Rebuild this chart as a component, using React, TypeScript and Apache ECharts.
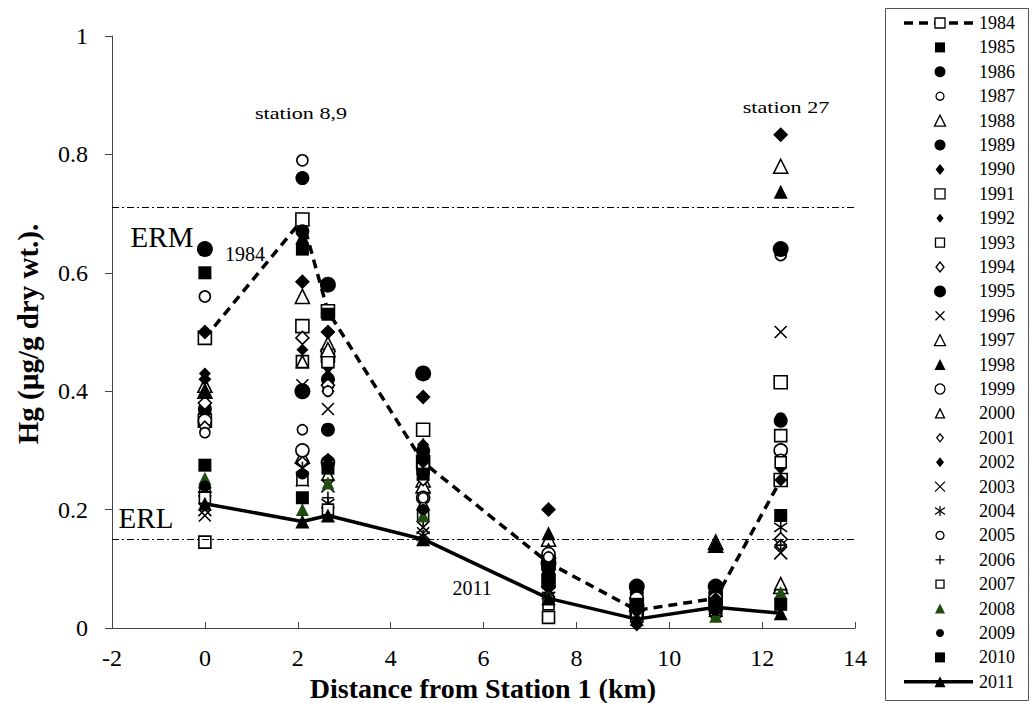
import React, { useEffect, useRef } from "react";
import * as echarts from "echarts";

const stations = [0, 2.1, 2.65, 4.7, 7.4, 9.3, 11.0, 12.4];
const years = ["1984","1985","1986","1987","1988","1989","1990","1991","1992","1993","1994","1995","1996","1997","1998","1999","2000","2001","2002","2003","2004","2005","2006","2007","2008","2009","2010","2011"];

const hg1984 = [0.49, 0.69, 0.535, 0.28, 0.11, 0.03, 0.05, 0.25];
const hg1985 = [0.60, 0.64, 0.53, 0.29, 0.09, 0.05, 0.06, 0.19];
const hg1986 = [0.37, 0.67, 0.42, 0.27, 0.10, 0.04, 0.05, 0.64];
const hg1987 = [0.56, 0.79, 0.41, 0.26, 0.12, 0.05, 0.05, 0.63];
const hg1988 = [0.41, 0.56, 0.48, 0.25, 0.15, 0.05, 0.145, 0.78];
const hg1989 = [0.36, 0.76, 0.335, 0.30, 0.10, 0.06, 0.06, 0.35];
const hg1990 = [0.50, 0.585, 0.50, 0.39, 0.20, 0.05, 0.07, 0.833];
const hg1991 = [0.35, 0.51, 0.46, 0.335, 0.08, 0.04, 0.04, 0.415];
const hg1992 = [0.43, 0.47, 0.44, 0.31, 0.09, 0.03, 0.06, 0.27];
const hg1993 = [0.145, 0.45, 0.45, 0.27, 0.018, 0.02, 0.03, 0.325];
const hg1994 = [0.38, 0.49, 0.41, 0.23, 0.07, 0.02, 0.03, 0.15];
const hg1995 = [0.64, 0.40, 0.58, 0.43, 0.11, 0.07, 0.07, 0.64];
const hg1996 = [0.19, 0.41, 0.37, 0.16, 0.06, 0.03, 0.04, 0.50];
const hg1997 = [0.40, 0.29, 0.47, 0.24, 0.13, 0.04, 0.14, 0.07];
const hg1998 = [0.40, 0.66, 0.43, 0.31, 0.16, 0.04, 0.14, 0.737];
const hg1999 = [0.35, 0.30, 0.28, 0.22, 0.125, 0.05, 0.05, 0.30];
const hg2000 = [0.24, 0.45, 0.26, 0.21, 0.06, 0.03, 0.03, 0.075];
const hg2001 = [0.34, 0.28, 0.40, 0.25, 0.08, 0.02, 0.02, 0.14];
const hg2002 = [0.42, 0.26, 0.285, 0.28, 0.07, 0.005, 0.05, 0.25];
const hg2003 = [0.20, 0.25, 0.24, 0.17, 0.05, 0.02, 0.03, 0.127];
const hg2004 = [0.23, 0.27, 0.21, 0.155, 0.06, 0.03, 0.04, 0.17];
const hg2005 = [0.33, 0.335, 0.40, 0.22, 0.12, 0.04, 0.04, 0.285];
const hg2006 = [0.24, 0.26, 0.22, 0.18, 0.06, 0.02, 0.03, 0.14];
const hg2007 = [0.22, 0.25, 0.20, 0.19, 0.04, 0.02, 0.03, 0.28];
const hg2008 = [0.253, 0.20, 0.245, 0.19, 0.055, 0.02, 0.02, 0.06];
const hg2009 = [0.24, 0.26, 0.275, 0.20, 0.07, 0.03, 0.03, 0.355];
const hg2010 = [0.275, 0.22, 0.27, 0.26, 0.085, 0.04, 0.04, 0.04];
const hg2011 = [0.21, 0.18, 0.19, 0.15, 0.05, 0.015, 0.035, 0.025];

const allValues = [hg1984, hg1985, hg1986, hg1987, hg1988, hg1989, hg1990, hg1991, hg1992, hg1993, hg1994, hg1995, hg1996, hg1997, hg1998, hg1999, hg2000, hg2001, hg2002, hg2003, hg2004, hg2005, hg2006, hg2007, hg2008, hg2009, hg2010, hg2011];

const ERM = 0.71;
const ERL = 0.15;

const X = "path://M0,0L10,10M10,0L0,10";
const PLUS = "path://M5,0L5,10M0,5L10,5";
const AST = "path://M0,1.5L10,8.5M10,1.5L0,8.5M5,0L5,10";

// [symbol, size, kind]  kind: f=filled, o=open, s=stroke, g=green
const styles: [string, number, string][] = [
  ["rect", 13, "o"], // 1984
  ["rect", 13, "f"],
  ["circle", 14, "f"],
  ["circle", 11, "o"],
  ["triangle", 14, "o"],
  ["circle", 14, "f"],
  ["diamond", 15, "f"],
  ["rect", 13, "o"],
  ["diamond", 12, "f"],
  ["rect", 12, "o"],
  ["diamond", 13, "o"],
  ["circle", 16, "f"],
  [X, 12, "s"],
  ["triangle", 14, "o"],
  ["triangle", 14, "f"],
  ["circle", 13, "o"],
  ["triangle", 12, "o"],
  ["diamond", 11, "o"],
  ["diamond", 13, "f"],
  [X, 13, "s"],
  [AST, 13, "s"],
  ["circle", 10, "o"],
  [PLUS, 12, "s"],
  ["rect", 11, "o"],
  ["triangle", 13, "g"],
  ["circle", 11, "f"],
  ["rect", 13, "f"],
  ["triangle", 14, "f"], // 2011
];

const SERIF = "'Liberation Serif', 'DejaVu Serif', serif";
const GREEN = "#1f4d10";

function itemStyleFor(kind: string) {
  if (kind === "f") return { color: "#000", borderColor: "#000", borderWidth: 0, opacity: 1 };
  if (kind === "g") return { color: GREEN, borderColor: GREEN, borderWidth: 0, opacity: 1 };
  if (kind === "o") return { color: "#fff", borderColor: "#000", borderWidth: 1.6, opacity: 1 };
  return { color: "rgba(0,0,0,0)", borderColor: "#000", borderWidth: 1.6, opacity: 1 };
}

function legendMarker(sym: string, size: number, kind: string, cx: number, cy: number): any[] {
  const h = size / 2;
  const fill = kind === "f" ? "#000" : kind === "g" ? GREEN : "#fff";
  const st: any = kind === "o" ? { fill, stroke: "#000", lineWidth: 1.3 } : { fill };
  const ls = { stroke: "#000", lineWidth: 1.3 };
  if (sym === "rect") return [{ type: "rect", shape: { x: cx - h, y: cy - h, width: size, height: size }, style: st }];
  if (sym === "circle") return [{ type: "circle", shape: { cx, cy, r: h }, style: st }];
  if (sym === "triangle") return [{ type: "polygon", shape: { points: [[cx, cy - h], [cx + h, cy + h], [cx - h, cy + h]] }, style: st }];
  if (sym === "diamond") return [{ type: "polygon", shape: { points: [[cx, cy - h], [cx + h * 0.8, cy], [cx, cy + h], [cx - h * 0.8, cy]] }, style: st }];
  if (sym === X) return [
    { type: "line", shape: { x1: cx - h, y1: cy - h, x2: cx + h, y2: cy + h }, style: ls },
    { type: "line", shape: { x1: cx + h, y1: cy - h, x2: cx - h, y2: cy + h }, style: ls },
  ];
  if (sym === PLUS) return [
    { type: "line", shape: { x1: cx, y1: cy - h, x2: cx, y2: cy + h }, style: ls },
    { type: "line", shape: { x1: cx - h, y1: cy, x2: cx + h, y2: cy }, style: ls },
  ];
  return [
    { type: "line", shape: { x1: cx - h, y1: cy - h * 0.7, x2: cx + h, y2: cy + h * 0.7 }, style: ls },
    { type: "line", shape: { x1: cx + h, y1: cy - h * 0.7, x2: cx - h, y2: cy + h * 0.7 }, style: ls },
    { type: "line", shape: { x1: cx, y1: cy - h, x2: cx, y2: cy + h }, style: ls },
  ];
}

export default function App() {
  const ref = useRef<HTMLDivElement>(null);
  useEffect(() => {
    if (!ref.current) return;
    const chart = echarts.init(ref.current, undefined, { renderer: "svg" });
    const series: any[] = years.map((yr, i) => {
      const [sym, size, kind] = styles[i];
      const data = stations.map((x, j) => [x, allValues[i][j]]);
      const base: any = {
        name: yr,
        data,
        symbol: sym,
        symbolSize: size,
        itemStyle: itemStyleFor(kind),
        z: 2,
      };
      if (yr === "1984") {
        return { ...base, type: "line", lineStyle: { color: "#000", width: 3.5, type: [9, 6] }, showSymbol: true };
      }
      if (yr === "2011") {
        return { ...base, type: "line", lineStyle: { color: "#000", width: 3.5, type: "solid" }, z: 3 };
      }
      return { ...base, type: "scatter" };
    });
    series.unshift({
      name: "ref",
      type: "line",
      data: [],
      silent: true,
      markLine: {
        silent: true,
        symbol: "none",
        label: { show: false },
        lineStyle: { color: "#000", width: 1, type: [7, 3, 2, 3] },
        data: [{ yAxis: ERM }, { yAxis: ERL }],
      },
    });

    // manual legend
    const legendEls: any[] = [
      { type: "rect", shape: { x: 885.5, y: 8.5, width: 143, height: 692 }, style: { fill: "#fff", stroke: "#555", lineWidth: 1 } },
    ];
    years.forEach((yr, i) => {
      const cy = 23 + i * 24.4;
      const [sym, size, kind] = styles[i];
      if (yr === "1984") {
        legendEls.push({ type: "line", shape: { x1: 904, y1: cy, x2: 973, y2: cy }, style: { stroke: "#000", lineWidth: 3.5, lineDash: [9, 6] } });
      }
      if (yr === "2011") {
        legendEls.push({ type: "line", shape: { x1: 904, y1: cy, x2: 973, y2: cy }, style: { stroke: "#000", lineWidth: 3.5 } });
      }
      legendMarker(sym, Math.round(size * 0.75), kind, 940, cy).forEach((e) => legendEls.push(e));
      legendEls.push({ type: "text", x: 979, y: cy, style: { text: yr, font: `18px ${SERIF}`, fill: "#000", textAlign: "left", textVerticalAlign: "middle" } });
    });

    chart.setOption({
      animation: false,
      backgroundColor: "#fff",
      grid: { left: 112, top: 36, right: 179, bottom: 75, containLabel: false },
      xAxis: {
        type: "value",
        min: -2,
        max: 14,
        interval: 2,
        axisLine: { lineStyle: { color: "#444", width: 1 } },
        axisTick: { inside: true, length: 6, lineStyle: { color: "#444" } },
        splitLine: { show: false },
        axisLabel: { color: "#000", fontFamily: SERIF, fontSize: 24, margin: 18 },
      },
      yAxis: {
        type: "value",
        min: 0,
        max: 1,
        interval: 0.2,
        axisLine: { show: true, onZero: false, lineStyle: { color: "#444", width: 1 } },
        axisTick: { show: true, inside: false, length: 7, lineStyle: { color: "#444" } },
        splitLine: { show: false },
        axisLabel: { color: "#000", fontFamily: SERIF, fontSize: 24, margin: 24 },
      },
      graphic: [
        { type: "text", x: 301, y: 113, scaleX: 1.3, style: { text: "station 8,9", font: `17px ${SERIF}`, fill: "#000", textAlign: "center", textVerticalAlign: "middle" } },
        { type: "text", x: 786, y: 107, scaleX: 1.3, style: { text: "station 27", font: `17px ${SERIF}`, fill: "#000", textAlign: "center", textVerticalAlign: "middle" } },
        { type: "text", x: 162, y: 237, style: { text: "ERM", font: `29px ${SERIF}`, fill: "#000", textAlign: "center", textVerticalAlign: "middle" } },
        { type: "text", x: 245, y: 254, style: { text: "1984", font: `20px ${SERIF}`, fill: "#000", textAlign: "center", textVerticalAlign: "middle" } },
        { type: "text", x: 146, y: 518, style: { text: "ERL", font: `29px ${SERIF}`, fill: "#000", textAlign: "center", textVerticalAlign: "middle" } },
        { type: "text", x: 472, y: 588, style: { text: "2011", font: `20px ${SERIF}`, fill: "#000", textAlign: "center", textVerticalAlign: "middle" } },
        { type: "text", x: 483, y: 688, style: { text: "Distance from Station 1 (km)", font: `bold 28px ${SERIF}`, fill: "#000", textAlign: "center", textVerticalAlign: "middle" } },
        { type: "text", x: 28, y: 334, rotation: Math.PI / 2, style: { text: "Hg (µg/g dry wt.).", font: `bold 29px ${SERIF}`, fill: "#000", textAlign: "center", textVerticalAlign: "middle" } },
        ...legendEls,
      ],
      series,
    });
    return () => chart.dispose();
  }, []);
  return <div ref={ref} style={{ position: "fixed", left: 0, top: 0, width: 1034, height: 703, background: "#fff" }} />;
}
